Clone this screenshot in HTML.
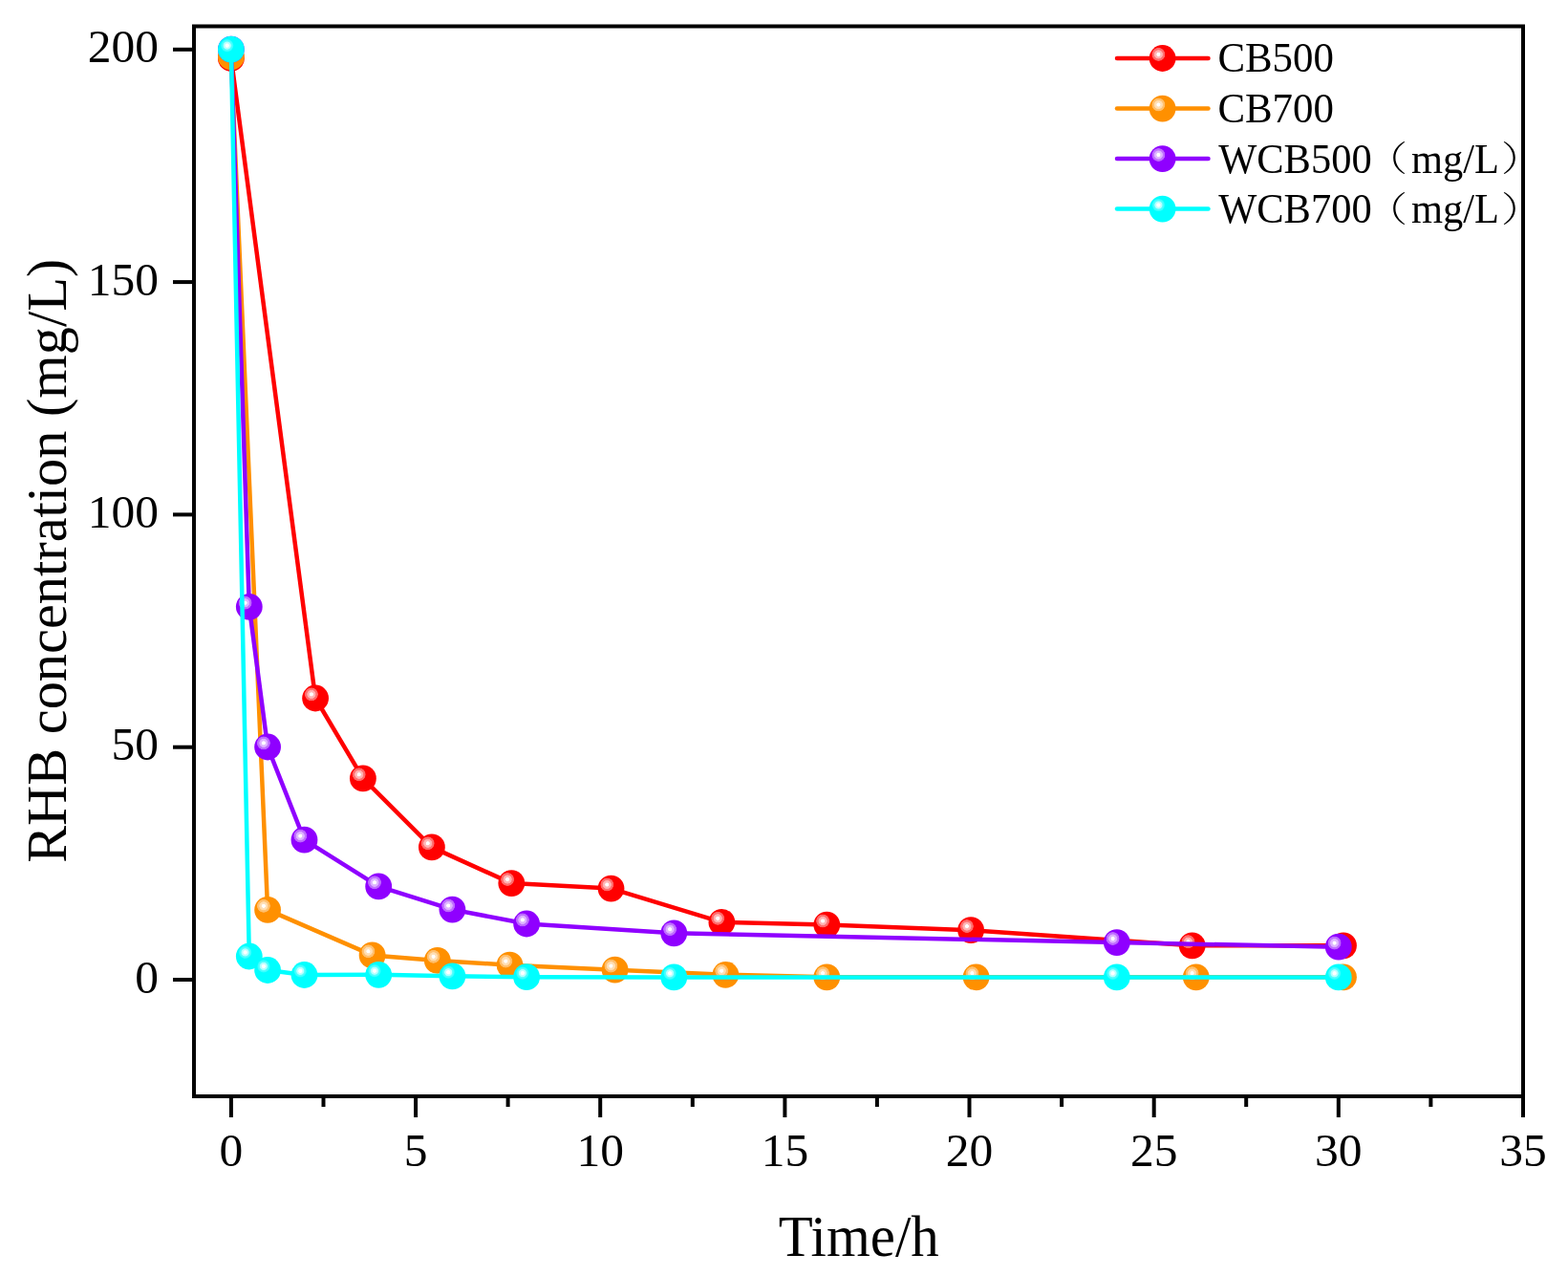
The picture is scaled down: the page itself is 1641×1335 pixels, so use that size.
<!DOCTYPE html><html><head><meta charset="utf-8"><title>RHB concentration vs time</title><style>
html,body{margin:0;padding:0;background:#fff;}svg{display:block;}
text{font-family:"Liberation Serif","Noto Serif CJK SC",serif;fill:#000;}
</style></head><body>
<svg width="1641" height="1335" viewBox="0 0 1641 1335">
<defs>
<radialGradient id="h0" cx="0.5" cy="0.5" r="0.5"><stop offset="0" stop-color="#ffffff"/><stop offset="0.24" stop-color="#ffffff"/><stop offset="0.32" stop-color="#ffbdbd"/><stop offset="0.60" stop-color="#ffadad"/><stop offset="0.67" stop-color="#ff7373"/><stop offset="0.93" stop-color="#ff6666"/><stop offset="1" stop-color="#ff1a1a"/></radialGradient>
<g id="m0"><circle cx="0" cy="0" r="13.9" fill="#ff0000"/><circle cx="-4.2" cy="-4.1" r="7.1" fill="url(#h0)"/></g>
<radialGradient id="h1" cx="0.5" cy="0.5" r="0.5"><stop offset="0" stop-color="#ffffff"/><stop offset="0.24" stop-color="#ffffff"/><stop offset="0.32" stop-color="#ffe2bd"/><stop offset="0.60" stop-color="#ffdbad"/><stop offset="0.67" stop-color="#ffc273"/><stop offset="0.93" stop-color="#ffbc66"/><stop offset="1" stop-color="#ff9b1a"/></radialGradient>
<g id="m1"><circle cx="0" cy="0" r="13.9" fill="#ff9000"/><circle cx="-4.2" cy="-4.1" r="7.1" fill="url(#h1)"/></g>
<radialGradient id="h2" cx="0.5" cy="0.5" r="0.5"><stop offset="0" stop-color="#ffffff"/><stop offset="0.24" stop-color="#ffffff"/><stop offset="0.32" stop-color="#e2bdff"/><stop offset="0.60" stop-color="#dbadff"/><stop offset="0.67" stop-color="#c173ff"/><stop offset="0.93" stop-color="#bc66ff"/><stop offset="1" stop-color="#9a1aff"/></radialGradient>
<g id="m2"><circle cx="0" cy="0" r="13.9" fill="#8f00ff"/><circle cx="-4.2" cy="-4.1" r="7.1" fill="url(#h2)"/></g>
<radialGradient id="h3" cx="0.5" cy="0.5" r="0.5"><stop offset="0" stop-color="#ffffff"/><stop offset="0.24" stop-color="#ffffff"/><stop offset="0.32" stop-color="#bdffff"/><stop offset="0.60" stop-color="#adffff"/><stop offset="0.67" stop-color="#73ffff"/><stop offset="0.93" stop-color="#66ffff"/><stop offset="1" stop-color="#1affff"/></radialGradient>
<radialGradient id="hc" cx="0.5" cy="0.5" r="0.5"><stop offset="0" stop-color="#ffffff"/><stop offset="0.26" stop-color="#ffffff"/><stop offset="0.36" stop-color="#c4ffff"/><stop offset="0.56" stop-color="#b0ffff"/><stop offset="0.66" stop-color="#5affff"/><stop offset="1" stop-color="#2affff"/></radialGradient>
<g id="m3"><circle cx="0" cy="0" r="13.9" fill="#00ffff"/><circle cx="-4.2" cy="-4.1" r="6.6" fill="url(#hc)"/></g>
</defs>
<rect x="203.0" y="27.5" width="1391.0" height="1119.5" fill="none" stroke="#000" stroke-width="4"/>
<line x1="181" y1="1025.0" x2="203.0" y2="1025.0" stroke="#000" stroke-width="4"/>
<text x="166" y="1038.5" font-size="49.5" text-anchor="end">0</text>
<line x1="181" y1="781.7" x2="203.0" y2="781.7" stroke="#000" stroke-width="4"/>
<text x="166" y="795.2" font-size="49.5" text-anchor="end">50</text>
<line x1="181" y1="538.4" x2="203.0" y2="538.4" stroke="#000" stroke-width="4"/>
<text x="166" y="551.9" font-size="49.5" text-anchor="end">100</text>
<line x1="181" y1="295.1" x2="203.0" y2="295.1" stroke="#000" stroke-width="4"/>
<text x="166" y="308.6" font-size="49.5" text-anchor="end">150</text>
<line x1="181" y1="51.8" x2="203.0" y2="51.8" stroke="#000" stroke-width="4"/>
<text x="166" y="65.3" font-size="49.5" text-anchor="end">200</text>
<line x1="241.9" y1="1147.0" x2="241.9" y2="1169" stroke="#000" stroke-width="4"/>
<text x="241.9" y="1220.2" font-size="49.5" text-anchor="middle">0</text>
<line x1="435.1" y1="1147.0" x2="435.1" y2="1169" stroke="#000" stroke-width="4"/>
<text x="435.1" y="1220.2" font-size="49.5" text-anchor="middle">5</text>
<line x1="628.2" y1="1147.0" x2="628.2" y2="1169" stroke="#000" stroke-width="4"/>
<text x="628.2" y="1220.2" font-size="49.5" text-anchor="middle">10</text>
<line x1="821.4" y1="1147.0" x2="821.4" y2="1169" stroke="#000" stroke-width="4"/>
<text x="821.4" y="1220.2" font-size="49.5" text-anchor="middle">15</text>
<line x1="1014.5" y1="1147.0" x2="1014.5" y2="1169" stroke="#000" stroke-width="4"/>
<text x="1014.5" y="1220.2" font-size="49.5" text-anchor="middle">20</text>
<line x1="1207.7" y1="1147.0" x2="1207.7" y2="1169" stroke="#000" stroke-width="4"/>
<text x="1207.7" y="1220.2" font-size="49.5" text-anchor="middle">25</text>
<line x1="1400.8" y1="1147.0" x2="1400.8" y2="1169" stroke="#000" stroke-width="4"/>
<text x="1400.8" y="1220.2" font-size="49.5" text-anchor="middle">30</text>
<line x1="1594.0" y1="1147.0" x2="1594.0" y2="1169" stroke="#000" stroke-width="4"/>
<text x="1594.0" y="1220.2" font-size="49.5" text-anchor="middle">35</text>
<line x1="338.5" y1="1147.0" x2="338.5" y2="1158" stroke="#000" stroke-width="4"/>
<line x1="531.6" y1="1147.0" x2="531.6" y2="1158" stroke="#000" stroke-width="4"/>
<line x1="724.8" y1="1147.0" x2="724.8" y2="1158" stroke="#000" stroke-width="4"/>
<line x1="917.9" y1="1147.0" x2="917.9" y2="1158" stroke="#000" stroke-width="4"/>
<line x1="1111.1" y1="1147.0" x2="1111.1" y2="1158" stroke="#000" stroke-width="4"/>
<line x1="1304.2" y1="1147.0" x2="1304.2" y2="1158" stroke="#000" stroke-width="4"/>
<line x1="1497.4" y1="1147.0" x2="1497.4" y2="1158" stroke="#000" stroke-width="4"/>
<text transform="translate(898.7,1313.6) scale(0.974,1)" x="0" y="0" font-size="60.5" text-anchor="middle">Time/h</text>
<text transform="translate(69.1,586.8) rotate(-90) scale(0.981,1)" x="0" y="0" font-size="59.5" text-anchor="middle">RHB concentration (mg/L)</text>
<g clip-path="none">
<polyline points="241.9,61.0 330.1,730.5 379.9,814.4 451.9,886.4 535.3,924.1 639.5,929.6 755.4,964.9 865.3,967.6 1016.1,973.2 1247.7,989.3 1406.0,989.3" fill="none" stroke="#ff0000" stroke-width="4.5" stroke-linejoin="round"/>
<use href="#m0" x="241.9" y="61.0"/>
<use href="#m0" x="330.1" y="730.5"/>
<use href="#m0" x="379.9" y="814.4"/>
<use href="#m0" x="451.9" y="886.4"/>
<use href="#m0" x="535.3" y="924.1"/>
<use href="#m0" x="639.5" y="929.6"/>
<use href="#m0" x="755.4" y="964.9"/>
<use href="#m0" x="865.3" y="967.6"/>
<use href="#m0" x="1016.1" y="973.2"/>
<use href="#m0" x="1247.7" y="989.3"/>
<use href="#m0" x="1406.0" y="989.3"/>
<polyline points="241.9,59.5 280.1,951.9 389.6,999.4 457.8,1004.9 533.5,1009.7 643.6,1014.7 759.4,1019.8 865.3,1022.3 1021.6,1022.3 1251.8,1022.3 1406.0,1022.3" fill="none" stroke="#ff9000" stroke-width="4.5" stroke-linejoin="round"/>
<use href="#m1" x="241.9" y="59.5"/>
<use href="#m1" x="280.1" y="951.9"/>
<use href="#m1" x="389.6" y="999.4"/>
<use href="#m1" x="457.8" y="1004.9"/>
<use href="#m1" x="533.5" y="1009.7"/>
<use href="#m1" x="643.6" y="1014.7"/>
<use href="#m1" x="759.4" y="1019.8"/>
<use href="#m1" x="865.3" y="1022.3"/>
<use href="#m1" x="1021.6" y="1022.3"/>
<use href="#m1" x="1251.8" y="1022.3"/>
<use href="#m1" x="1406.0" y="1022.3"/>
<polyline points="241.9,51.7 260.8,634.8 280.1,781.5 318.5,878.7 396.2,927.4 473.4,951.6 551.1,966.5 705.3,976.3 1168.8,986.1 1400.8,990.7" fill="none" stroke="#8f00ff" stroke-width="4.5" stroke-linejoin="round"/>
<use href="#m2" x="241.9" y="51.7"/>
<use href="#m2" x="260.8" y="634.8"/>
<use href="#m2" x="280.1" y="781.5"/>
<use href="#m2" x="318.5" y="878.7"/>
<use href="#m2" x="396.2" y="927.4"/>
<use href="#m2" x="473.4" y="951.6"/>
<use href="#m2" x="551.1" y="966.5"/>
<use href="#m2" x="705.3" y="976.3"/>
<use href="#m2" x="1168.8" y="986.1"/>
<use href="#m2" x="1400.8" y="990.7"/>
<polyline points="241.9,51.7 260.8,1000.5 280.1,1015.0 318.5,1020.0 396.2,1019.8 473.4,1021.3 551.1,1022.2 705.3,1022.4 1168.8,1022.4 1400.8,1022.4" fill="none" stroke="#00ffff" stroke-width="4.5" stroke-linejoin="round"/>
<use href="#m3" x="241.9" y="51.7"/>
<use href="#m3" x="260.8" y="1000.5"/>
<use href="#m3" x="280.1" y="1015.0"/>
<use href="#m3" x="318.5" y="1020.0"/>
<use href="#m3" x="396.2" y="1019.8"/>
<use href="#m3" x="473.4" y="1021.3"/>
<use href="#m3" x="551.1" y="1022.2"/>
<use href="#m3" x="705.3" y="1022.4"/>
<use href="#m3" x="1168.8" y="1022.4"/>
<use href="#m3" x="1400.8" y="1022.4"/>
</g>
<line x1="1169" y1="61.0" x2="1264.5" y2="61.0" stroke="#ff0000" stroke-width="4.5" stroke-linecap="round"/>
<use href="#m0" x="1216.6" y="61.0"/>
<text transform="translate(1274.4,74.7) scale(0.966,1)" x="0" y="0" font-size="44.4">CB500</text>
<line x1="1169" y1="113.6" x2="1264.5" y2="113.6" stroke="#ff9000" stroke-width="4.5" stroke-linecap="round"/>
<use href="#m1" x="1216.6" y="113.6"/>
<text transform="translate(1274.4,127.6) scale(0.966,1)" x="0" y="0" font-size="44.4">CB700</text>
<line x1="1169" y1="166.1" x2="1264.5" y2="166.1" stroke="#8f00ff" stroke-width="4.5" stroke-linecap="round"/>
<use href="#m2" x="1216.6" y="166.1"/>
<text transform="translate(1275.2,180.6) scale(0.957,1)" x="0" y="0" font-size="44.4">WCB500</text>
<text transform="translate(1430,179.3) scale(1,0.85)" x="0" y="0" font-size="43" style="font-family:&quot;Liberation Serif&quot;,&quot;Noto Serif CJK SC&quot;,serif;font-weight:200">（</text>
<text transform="translate(1477,180.6) scale(0.957,1)" x="0" y="0" font-size="44.4">mg/L</text>
<text transform="translate(1571,179.3) scale(1,0.85)" x="0" y="0" font-size="43" style="font-family:&quot;Liberation Serif&quot;,&quot;Noto Serif CJK SC&quot;,serif;font-weight:200">）</text>
<line x1="1169" y1="218.6" x2="1264.5" y2="218.6" stroke="#00ffff" stroke-width="4.5" stroke-linecap="round"/>
<use href="#m3" x="1216.6" y="218.6"/>
<text transform="translate(1275.2,233.2) scale(0.957,1)" x="0" y="0" font-size="44.4">WCB700</text>
<text transform="translate(1430,231.9) scale(1,0.85)" x="0" y="0" font-size="43" style="font-family:&quot;Liberation Serif&quot;,&quot;Noto Serif CJK SC&quot;,serif;font-weight:200">（</text>
<text transform="translate(1477,233.2) scale(0.957,1)" x="0" y="0" font-size="44.4">mg/L</text>
<text transform="translate(1571,231.9) scale(1,0.85)" x="0" y="0" font-size="43" style="font-family:&quot;Liberation Serif&quot;,&quot;Noto Serif CJK SC&quot;,serif;font-weight:200">）</text>
</svg></body></html>
